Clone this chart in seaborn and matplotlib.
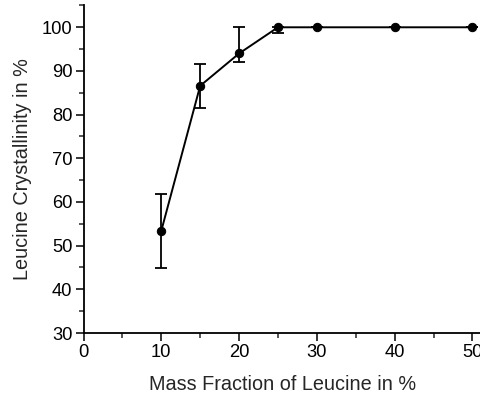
import matplotlib
matplotlib.use("Agg")
import matplotlib.pyplot as plt
import seaborn as sns
import pandas as pd
import numpy as np
from matplotlib.ticker import MultipleLocator

mass_fraction = [10, 15, 20, 25, 30, 40, 50]
crystallinity = [53.4, 86.6, 94.0, 100.0, 100.0, 100.0, 100.0]
err_lower = [8.5, 5.0, 2.0, 1.2, 0.0, 0.0, 0.0]
err_upper = [8.4, 5.0, 6.0, 0.0, 0.0, 0.0, 0.0]

df = pd.DataFrame({"x": mass_fraction, "y": crystallinity})

sns.set_style("ticks")
plt.rcParams['font.family'] = ['Liberation Sans', 'DejaVu Sans']

fig = plt.figure(figsize=(4.81, 3.98), dpi=100)
ax = fig.add_axes([0.1736, 0.1633, 0.8264, 0.8241])

ax.errorbar(mass_fraction, crystallinity, yerr=[err_lower, err_upper],
            fmt='none', ecolor='black', elinewidth=1.3, capsize=4.5, capthick=1.3, zorder=2)
sns.lineplot(data=df, x="x", y="y", ax=ax, color='black', linewidth=1.4,
             marker='o', markersize=6, markeredgecolor='black', zorder=3)

ax.set_xlim(0, 51.1)
ax.set_ylim(30, 105.1)
ax.xaxis.set_major_locator(MultipleLocator(10))
ax.xaxis.set_minor_locator(MultipleLocator(5))
ax.yaxis.set_major_locator(MultipleLocator(10))
ax.yaxis.set_minor_locator(MultipleLocator(5))
ax.tick_params(axis='both', which='major', length=6, width=1.1, labelsize=13.2, colors='black', pad=2)
ax.tick_params(axis='both', which='minor', length=3.5, width=1.1)
for s in ['top', 'right']:
    ax.spines[s].set_visible(False)
for s in ['left', 'bottom']:
    ax.spines[s].set_linewidth(1.3)
    ax.spines[s].set_color('black')

ax.set_xlabel("Mass Fraction of Leucine in %", fontsize=14.3, labelpad=10)
ax.set_ylabel("Leucine Crystallinity in %", fontsize=14.3, labelpad=7)

fig.savefig("out.png", dpi=100)
